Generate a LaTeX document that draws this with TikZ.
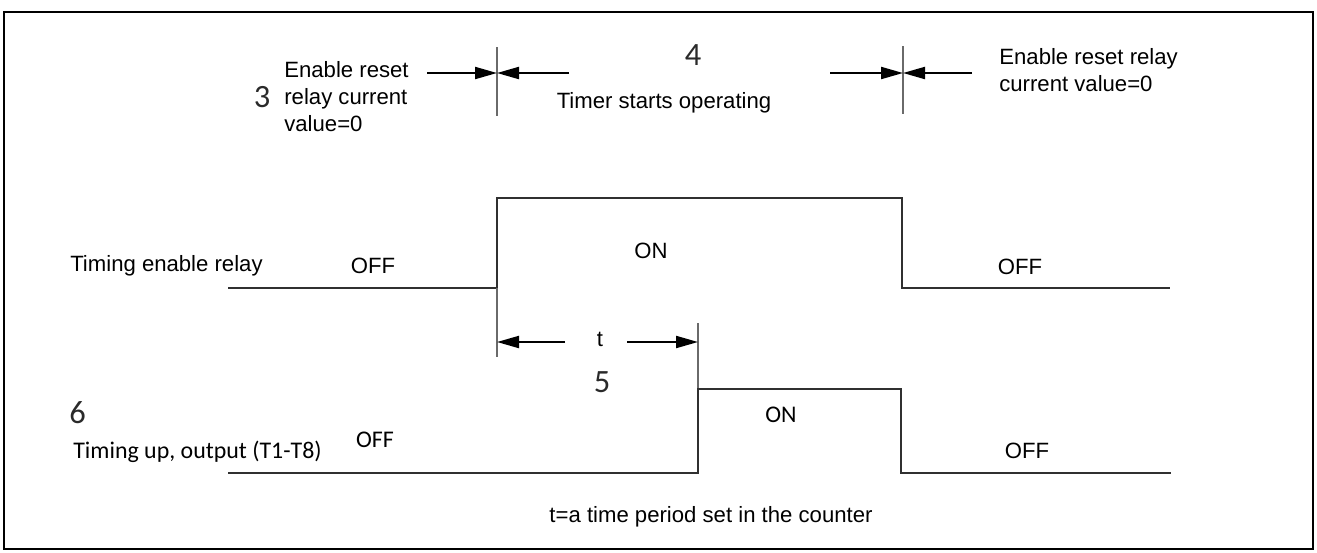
\documentclass[tikz,border=0pt]{standalone}
\usepackage{fontspec}
\setmainfont{Liberation Sans}
\newfontfamily\calib{Carlito}
\usetikzlibrary{arrows.meta}
\definecolor{wave}{HTML}{303030}
\definecolor{tickc}{HTML}{6A6A6A}
\definecolor{numc}{HTML}{2A2A2A}

\begin{document}
\begin{tikzpicture}[x=0.02cm,y=-0.02cm,
    lbl/.style={font=\fontsize{12.6}{15.4}\selectfont,inner sep=0pt},
    clbl/.style={font=\calib\fontsize{13.6}{16}\selectfont,inner sep=0pt},
    num/.style={numc,font=\calib\fontsize{18.5}{20}\selectfont,inner sep=0pt},
    dimarrow/.style={line width=1.2pt,-{Triangle[length=0.44cm,width=0.24cm]}},
    tickline/.style={tickc,line width=0.6pt},
    waveline/.style={wave,line width=1.1pt}]
  \useasboundingbox (0,0) rectangle (1317,552);
  \draw[line width=1.3pt] (4,12) rectangle (1313,549);

  % top markers
  \coordinate (sTop) at (497,47);  \coordinate (sBot) at (497,116);
  \coordinate (eTop) at (903,46);  \coordinate (eBot) at (903,114);
  \coordinate (sMid) at (497,73);  \coordinate (eMid) at (903,73);
  \coordinate (sL) at (427,73); \coordinate (sR) at (569,73);
  \coordinate (eL) at (830,73); \coordinate (eR) at (972,73);
  \draw[tickline] (sTop) -- (sBot);
  \draw[tickline] (eTop) -- (eBot);
  \draw[dimarrow] (sL) -- (sMid);
  \draw[dimarrow] (sR) -- (sMid);
  \draw[dimarrow] (eL) -- (eMid);
  \draw[dimarrow] (eR) -- (eMid);
  \node[num] (n3) at (262,97) {3};
  \node[lbl,anchor=west,align=left] (resetA) at (284,97) {Enable reset\\relay current\\value=0};
  \node[num] (n4) at (693,55) {4};
  \node[lbl] (timer) at (664,103) {Timer starts operating};
  \node[lbl,anchor=west,align=left] (resetB) at (999,70) {Enable reset relay\\current value=0};

  % timing enable relay
  \coordinate (enA) at (228,288); \coordinate (enUp) at (497,288);
  \coordinate (enDn) at (902,288); \coordinate (enB) at (1170,288);
  \draw[waveline] (enA) -- (enUp) -- (497,198) -- (902,198) -- (enDn) -- (enB);
  \node[lbl,anchor=east] (enName) at (263,266) {Timing enable relay};
  \node[lbl] (enOff1) at (373,266) {OFF};
  \node[lbl] (enOn) at (651,251) {ON};
  \node[lbl] (enOff2) at (1020,267) {OFF};

  % t dimension
  \coordinate (tA) at (497,357); \coordinate (tB) at (698,323);
  \coordinate (tL) at (497,342); \coordinate (tR) at (698,342);
  \coordinate (tLs) at (565,342); \coordinate (tRs) at (627,342);
  \draw[tickline] (enUp) -- (tA);
  \draw[tickline] (tB) -- (698,389);
  \draw[dimarrow] (tLs) -- (tL);
  \draw[dimarrow] (tRs) -- (tR);
  \node[lbl] (tlbl) at (600,339) {t};
  \node[num] (n5) at (602,382) {5};

  % timing up output
  \coordinate (upA) at (228,473); \coordinate (upB) at (1171,473);
  \draw[waveline] (upA) -- (698,473) -- (698,389) -- (901,389) -- (901,473) -- (upB);
  \node[num,anchor=west] (n6) at (69,413) {6};
  \node[clbl,anchor=west] (upName) at (73,452) {Timing up, output (T1-T8)};
  \node[clbl] (upOff1) at (375,440) {OFF};
  \node[clbl] (upOn) at (781,415) {ON};
  \node[lbl] (upOff2) at (1027,451) {OFF};

  \node[lbl] (note) at (711,517) {t=a time period set in the counter};
\end{tikzpicture}
\end{document}
